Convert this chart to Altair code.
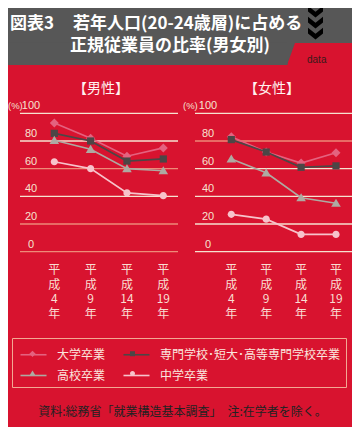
import altair as alt
import pandas as pd

# ---------------- data ----------------
years = [4, 9, 14, 19]
series = ["大学卒業", "専門学校･短大･高等専門学校卒業", "高校卒業", "中学卒業"]

male_daigaku = [93, 82, 69, 75]
male_senmon = [85.5, 80, 65.5, 67]
male_koukou = [80.5, 74, 60, 58.5]
male_chugaku = [65, 60, 42.5, 40.5]

female_daigaku = [83, 72, 64, 71.5]
female_senmon = [81, 72, 61, 62]
female_koukou = [67, 57, 39, 35]
female_chugaku = [27, 23.5, 12.5, 12.5]

y_ticks = [0, 20, 40, 60, 80, 100]

title_line1a = "図表3"
title_line1b = "若年人口(20-24歳層)に占める"
title_line2 = "正規従業員の比率(男女別)"
panel_titles = ["【男性】", "【女性】"]
source_text = "資料:総務省「就業構造基本調査」　注:在学者を除く。"

# ---------------- styles ----------------
RED = "#d8132f"
GREY = "#575757"
CREAM = "#f6e2d0"
SALMON = "#ee8a78"
JP = "Noto Sans CJK JP"
NUM = "Liberation Sans Narrow, Liberation Sans, sans-serif"

colors = ["#e4627f", "#4c4646", "#aeaaa2", "#f7c3cb"]
shape_paths = [
    "M0,-0.3L0.3,0L0,0.3L-0.3,0Z",
    "M-0.24,-0.24H0.24V0.24H-0.24Z",
    "M0,-0.3L0.32,0.24H-0.32Z",
    "M0.24,0A0.24,0.24 0 1,1 -0.24,0A0.24,0.24 0 1,1 0.24,0Z",
]

color_scale = alt.Scale(domain=series, range=colors)
line_scale = alt.Scale(range=colors)
shape_scale = alt.Scale(domain=series, range=shape_paths)
y_scale = alt.Scale(domain=[0, 100], range=[243.7, 105.3])

LEG_FONT = 12
LEG_COMMON = dict(
    orient="none", legendX=4, legendY=330, columns=2, direction="horizontal",
    title=None, padding=5, symbolSize=434, symbolOffset=5, labelOffset=12,
    rowPadding=3, labelFont=JP, labelFontSize=LEG_FONT,
    labelLimit=400, symbolOpacity=1,
)
legend_lines = alt.Legend(
    symbolType="M-1.25,0H1.25", strokeColor="#f3a893", symbolStrokeWidth=1.6,
    symbolFillColor="transparent", labelColor="#fbe6de", columnPadding=14,
    **LEG_COMMON,
)
# marker legend drawn on top of the line legend, without its own labels
legend_shapes = alt.Legend(
    labelExpr="''", symbolStrokeWidth=0,
    columnPadding=14 + LEG_FONT * len(series[0]), **LEG_COMMON,
)


def panel_df(vals):
    rows = []
    for s, v in zip(series, vals):
        for yr, val in zip(years, v):
            rows.append({"year": yr, "series": s, "series_l": s, "value": val})
    return pd.DataFrame(rows)


def panel(vals, xrange, grid_x, label_x, pct_x, title, title_x, salmon_ticks):
    df = panel_df(vals)
    xs = alt.Scale(type="point", domain=years, range=xrange, padding=0)
    X = alt.X("year:O", scale=xs, axis=None)
    Y = alt.Y("value:Q", scale=y_scale, axis=None)
    tick_df = pd.DataFrame({"tick": y_ticks})
    grid = alt.Chart(tick_df).mark_rule(strokeWidth=1.3).encode(
        y=alt.Y("tick:Q", scale=y_scale, axis=None),
        x=alt.value(grid_x[0]), x2=alt.value(grid_x[1]),
        color=alt.condition(alt.FieldOneOfPredicate(field="tick", oneOf=salmon_ticks),
                            alt.value(SALMON), alt.value(CREAM)),
    )
    ylab = alt.Chart(tick_df).mark_text(
        dy=-7, align="center", baseline="middle", font=NUM, fontSize=11, color=CREAM
    ).encode(y=alt.Y("tick:Q", scale=y_scale, axis=None), x=alt.value(label_x), text="tick:Q")
    pct = alt.Chart(pd.DataFrame({"t": ["(%)"]})).mark_text(
        align="left", baseline="middle", font=NUM, fontSize=9.5, color=CREAM
    ).encode(x=alt.value(pct_x), y=alt.value(98.3), text="t:N")
    lines = alt.Chart(df).mark_line(strokeWidth=1.7).encode(
        x=X, y=Y,
        stroke=alt.Stroke("series_l:N", sort=series, scale=line_scale, legend=legend_lines),
    )
    pts = alt.Chart(df).mark_point(filled=True, size=900, opacity=1, strokeWidth=0).encode(
        x=X, y=Y,
        fill=alt.Fill("series:N", scale=color_scale, legend=legend_shapes),
        shape=alt.Shape("series:N", scale=shape_scale, legend=legend_shapes),
    )
    # vertical year labels: one text mark per stacked line
    xl_df = pd.DataFrame({
        "year": years,
        "l0": ["平"] * len(years),
        "l1": ["成"] * len(years),
        "l2": [str(y) for y in years],
        "l3": ["年"] * len(years),
    })
    xbase = alt.Chart(xl_df).mark_text(
        baseline="middle", align="center", font=JP, fontSize=12, color="#f9ddd2")
    xlab = alt.layer(*[
        xbase.encode(x=X, y=alt.value(yy), text=f"{col}:N")
        for col, yy in zip(["l0", "l1", "l2", "l3"], [262, 276.5, 291, 305.5])
    ])
    ttl = alt.Chart(pd.DataFrame({"t": [title]})).mark_text(
        align="center", baseline="middle", font=JP, fontSize=14, color="#fff2f0"
    ).encode(x=alt.value(title_x), y=alt.value(81), text="t:N")
    return alt.layer(grid, ylab, pct, lines, pts, xlab, ttl)


male = panel([male_daigaku, male_senmon, male_koukou, male_chugaku],
             [46.3, 155.3], (12, 170), 23, 0, panel_titles[0], 93, [60, 20, 0])
female = panel([female_daigaku, female_senmon, female_koukou, female_chugaku],
               [223.3, 328], (187, 344), 200, 175, panel_titles[1], 264, [80])

one = pd.DataFrame({"a": [0]})
header_top = alt.Chart(one).mark_rect(color=GREY).encode(
    x=alt.value(0), x2=alt.value(344), y=alt.value(0), y2=alt.value(35))
header_low = alt.Chart(one).mark_rect(color=GREY).encode(
    x=alt.value(0), x2=alt.value(279.5), y=alt.value(34.5), y2=alt.value(57))
header_tri = alt.Chart(one).mark_point(
    shape="M-0.3636,1L0.3636,-1L-0.3636,-1Z", size=484, filled=True, opacity=1,
    color=GREY, strokeWidth=0).encode(x=alt.value(283), y=alt.value(46))
data_txt = alt.Chart(pd.DataFrame({"t": ["data"]})).mark_text(
    align="left", baseline="middle", font="Liberation Sans, sans-serif", fontSize=10,
    color="#3a1a1a").encode(x=alt.value(299), y=alt.value(52), text="t:N")
chev = alt.Chart(pd.DataFrame({"t": [0]})).mark_point(
    shape="M-1,-0.7L0,0.1L1,-0.7L1,0.05L0,0.85L-1,0.05Z", size=225, filled=True,
    opacity=1, color="#000000", strokeWidth=0)
chevrons = alt.layer(
    chev.encode(x=alt.value(307.5), y=alt.value(3)),
    chev.encode(x=alt.value(307.5), y=alt.value(14)),
    chev.encode(x=alt.value(307.5), y=alt.value(25)),
)
tstyle = dict(baseline="middle", font=JP, fontSize=17, fontWeight="bold", color="#ffffff")
t1a = alt.Chart(pd.DataFrame({"t": [title_line1a]})).mark_text(align="left", **tstyle).encode(
    x=alt.value(2), y=alt.value(15.5), text="t:N")
t1b = alt.Chart(pd.DataFrame({"t": [title_line1b]})).mark_text(align="left", **tstyle).encode(
    x=alt.value(65), y=alt.value(15.5), text="t:N")
t2 = alt.Chart(pd.DataFrame({"t": [title_line2]})).mark_text(align="left", **tstyle).encode(
    x=alt.value(62), y=alt.value(38), text="t:N")
src = alt.Chart(pd.DataFrame({"t": [source_text]})).mark_text(
    align="center", baseline="middle", font=JP, fontSize=12, color="#222222").encode(
    x=alt.value(174.5), y=alt.value(404), text="t:N")

chart = alt.layer(
    header_top, header_low, header_tri, data_txt, chevrons, t1a, t1b, t2, male, female, src
).resolve_scale(x="independent").properties(
    width=344, height=419, padding=0, background=RED,
    autosize=alt.AutoSizeParams(type="none"),
).configure_view(stroke=None)

chart.save("out.html", embed_options={"renderer": "svg", "actions": False})
